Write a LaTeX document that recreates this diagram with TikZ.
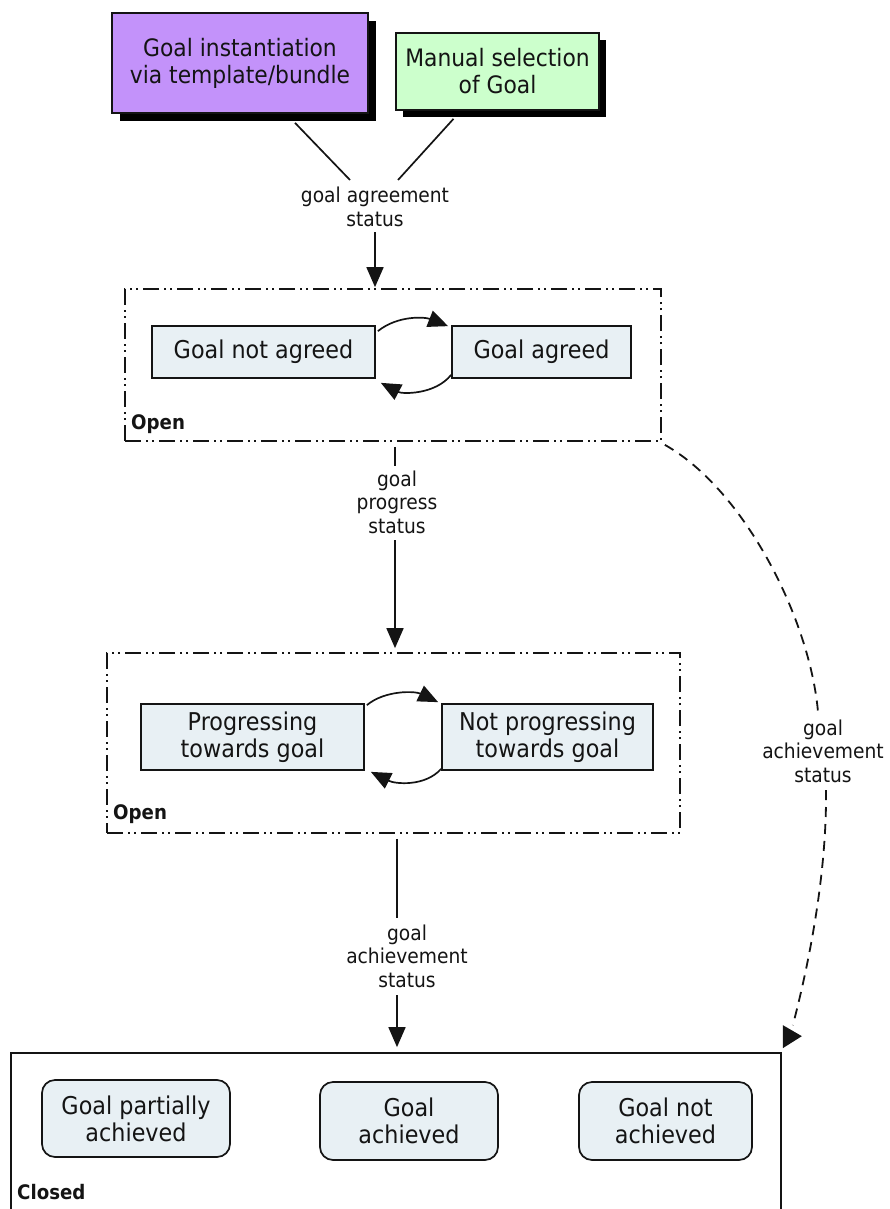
\documentclass[tikz,border=0pt]{standalone}
\usepackage{fontspec}
\setmainfont{DejaVu Sans}[FakeStretch=0.91]
\usetikzlibrary{arrows.meta,calc,shadows}

\definecolor{purp}{RGB}{195,146,250}
\definecolor{mint}{RGB}{204,255,204}
\definecolor{stfill}{RGB}{232,240,244}
\definecolor{ink}{RGB}{20,20,20}

\tikzset{
  srcbox/.style={draw=ink, line width=1.7pt, align=center, inner sep=0pt,
    font=\fontsize{24}{27}\selectfont, text=ink},
  stbox/.style={draw=ink, fill=stfill, line width=1.7pt, align=center, inner sep=0pt,
    font=\fontsize{24.5}{27}\selectfont, text=ink},
  endbox/.style={stbox, rounded corners=13pt},
  groupbox/.style={draw=ink, line width=1.7pt,
    dash pattern=on 16pt off 5pt on 2pt off 4pt on 2pt off 5pt},
  lbl/.style={align=center, inner sep=0pt, font=\fontsize{20.5}{23.5}\selectfont, text=ink},
  grouptag/.style={anchor=west, inner sep=0pt, font=\bfseries\fontsize{20}{22}\selectfont, text=ink},
  link/.style={draw=ink, line width=1.7pt},
  arr/.style={link, -{Triangle[length=20pt,width=17pt]}},
  dlink/.style={draw=ink, line width=1.8pt, dash pattern=on 10pt off 7pt},
  blackshadow/.style={drop shadow={shadow xshift=8pt, shadow yshift=-8pt, fill=black, opacity=1}}
}

\begin{document}
\begin{tikzpicture}[x=1pt,y=-1pt]
\useasboundingbox (0,0) rectangle (889,1209);

% entry points
\node[srcbox, fill=purp, minimum width=256pt, minimum height=100pt, blackshadow] (pur) at (240,63)
  {Goal instantiation\\via template/bundle};
\node[srcbox, fill=mint, minimum width=203pt, minimum height=77pt,
  drop shadow={shadow xshift=7pt, shadow yshift=-7pt, fill=black, opacity=1}] (grn) at (497.5,71.5)
  {Manual selection\\of Goal};

\node[lbl] (agr) at (375,207) {goal agreement\\status};
\draw[link] ($(pur.south)+(55,9)$) -- ($(agr.center)+(-25,-27)$);
\draw[link] ($(grn.south)+(-44,8)$) -- ($(agr.center)+(23,-27)$);

% first open group: agreement
\node[groupbox, minimum width=536pt, minimum height=152pt] (o1) at (393,365) {};
\node[grouptag] (o1tag) at (131,424) {Open};
\node[stbox, minimum width=223pt, minimum height=52pt] (gna) at (263.5,352) {Goal not agreed};
\node[stbox, minimum width=179pt, minimum height=52pt] (ga) at (541.5,352) {Goal agreed};
\draw[arr] ($(agr.center)+(0,25)$) -- ($(agr.center |- o1.north)+(0,-1)$);
\draw[arr] ($(gna.north east)+(2,6)$) .. controls (398,315) and (425,317) .. ($(ga.north west)+(-3,1)$);
\draw[arr] ($(ga.south west)+(0,-4)$) .. controls (435,395) and (402,394) .. ($(gna.south east)+(5,4)$);

% second open group: progress
\node[lbl] (prg) at (397,502) {goal\\progress\\status};
\node[groupbox, minimum width=573pt, minimum height=180pt] (o2) at (393.5,743) {};
\node[grouptag] (o2tag) at (113,814) {Open};
\node[stbox, minimum width=223pt, minimum height=66pt] (prog) at (252.5,737) {Progressing\\towards goal};
\node[stbox, minimum width=211pt, minimum height=66pt] (nprog) at (547.5,737) {Not progressing\\towards goal};
\draw[link] ($(o1.south)+(2,5)$) -- ($(prg.center)+(-2,-36)$);
\draw[arr] ($(prg.center)+(-2,38)$) -- ($(o2.north)+(1.5,-4)$);
\draw[arr] ($(prog.north east)+(2,2)$) .. controls (385,690) and (415,691) .. ($(nprog.north west)+(-3,-1)$);
\draw[arr] ($(nprog.south west)+(0,-2)$) .. controls (425,787) and (395,784) .. ($(prog.south east)+(6,1)$);

% closed group
\node[lbl] (ach) at (407,956) {goal\\achievement\\status};
\node[draw=ink, line width=1.7pt, minimum width=770pt, minimum height=175pt] (cl) at (396,1140.5) {};
\node[grouptag] (cltag) at (17,1192) {Closed};
\node[endbox, minimum width=188pt, minimum height=77pt] (gpa) at (136,1118.5) {Goal partially\\achieved};
\node[endbox, minimum width=178pt, minimum height=78pt] (gach) at (409,1121) {Goal\\achieved};
\node[endbox, minimum width=173pt, minimum height=78pt] (gnach) at (665.5,1121) {Goal not\\achieved};
\draw[link] ($(o2.south)+(3.5,5)$) -- ($(ach.center)+(-10,-38)$);
\draw[arr] ($(ach.center)+(-10,39)$) -- ($(ach.center |- cl.north)+(-10,-5)$);

% shortcut from the agreement group straight to closed
\node[lbl] (ach2) at (823,751) {goal\\achievement\\status};
\coordinate (dend) at ($(cl.north east)+(11,-27)$);
\draw[dlink] ($(o1.south east)+(3,3)$) .. controls (745,490) and (810,620) .. ($(ach2.center)+(-5,-39)$);
\draw[dlink] ($(ach2.center)+(3,39)$) .. controls (827,880) and (806,975) .. (dend);
\fill[ink] ($(cl.north east)+(1,-27)$) -- ($(cl.north east)+(20,-16)$) -- ($(cl.north east)+(1,-4)$) -- cycle;
\end{tikzpicture}
\end{document}
